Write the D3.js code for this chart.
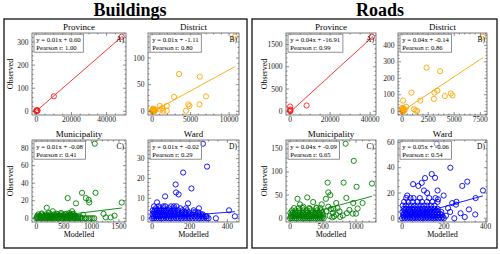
<!DOCTYPE html>
<html>
<head>
<meta charset="utf-8">
<script src="https://cdn.jsdelivr.net/npm/d3@7/dist/d3.min.js"></script>
<style>
  body { margin: 0; background: #fff; }
  text { font-family: "Liberation Serif", "DejaVu Serif", serif; }
</style>
</head>
<body>
<script>
// ---------- data ----------
var groupTitles = ['Buildings', 'Roads'];
var levelNames = ['Province', 'District', 'Municipality', 'Ward'];
var panelLetters = ['A)', 'B)', 'C)', 'D)'];
var levelColors = ['#ff2020', 'orange', 'green', 'blue'];

// buildings
var bProvince = [[0,0],[150,2],[300,1],[500,4],[800,3],[200,5],[10000,65],[48600,323]];
var bDistrict = [[10750,140],[3500,70],[6200,65],[2850,27],[7000,28],[4700,13],[4850,10],[6150,13],[4400,1],
  [1000,10],[1900,10],[1300,6],[1900,1],[1450,1],[1100,3],[0,0],[50,2],[100,5],[150,1],[200,3],[250,0],
  [300,4],[80,0],[120,2],[180,0],[30,1],[350,1],[400,2],[60,3],[220,1]];
var bMunicipality = [
  [1060,85],[570,23],[830,29],[1075,29],[900,23],[950,21],[960,18],[720,17],[1550,18],[190,12],[300,8],
  [650,8],[680,5],[1220,5],[1420,3],[1350,1],[1260,1],[850,4],[100,5.5],[450,6],[550,5],[230,6],[370,5],[600,6],[620,4],
  [0,0],[30,0],[72,0],[101,0],[145,0],[170,0],[214,0],[250,0],[276,0],[320,0],[348,0],[390,0],[415,0],[460,0],
  [488,0],[530,0],[555,0],[600,0],[628,0],[670,0],[702,0],[740,0],[765,0],[810,0],[838,0],[880,0],[905,0],
  [950,0],[985,0],[1020,0],[1052,0],
  [12,1.5],[55,1.5],[90,1.5],[130,1.5],[160,1.5],[200,1.5],[235,1.5],[265,1.5],[300,1.5],[335,1.5],[370,1.5],
  [405,1.5],[440,1.5],[475,1.5],[510,1.5],[545,1.5],[580,1.5],[615,1.5],[650,1.5],[690,1.5],[720,1.5],[760,1.5],[800,1.5],
  [20,3],[60,3],[115,3],[155,3],[190,3],[228,3],[270,3],[310,3],[360,3],[400,3],[430,3],[470,3],[515,3],
  [560,3],[600,3],[640,3],[690,3],
  [40,4.5],[95,4.5],[180,4.5],[260,4.5],[330,4.5],[380,4.5],[450,4.5],[520,4.5],[610,4.5],[660,4.5]];
var bWard = [
  [270,37.5],[292,26],[165,23],[209,15],[125,17],[127,13],[141,12],[69,11],[191,7.5],[249,5],[221,4],
  [409,4],[440,1],[339,0],[26,8],[116,6],[60,6],[180,3],[230,3],[260,2],[290,1],
  [0,0],[10,0],[22,0],[35,0],[48,0],[60,0],[75,0],[88,0],[100,0],[115,0],[128,0],[140,0],[155,0],[170,0],
  [185,0],[200,0],[215,0],[230,0],[245,0],[260,0],[275,0],[290,0],[300,0],
  [5,1],[18,1],[30,1],[42,1],[55,1],[68,1],[82,1],[95,1],[108,1],[120,1],[135,1],[150,1],[165,1],[180,1],
  [195,1],[210,1],[225,1],[240,1],[255,1],[270,1],[285,1],
  [2,2],[15,2],[28,2],[40,2],[52,2],[65,2],[78,2],[92,2],[105,2],[118,2],[132,2],[145,2],[160,2],[178,2],
  [195,2],[212,2],[232,2],[250,2],[268,2],
  [8,3],[20,3],[33,3],[45,3],[58,3],[72,3],[85,3],[98,3],[112,3],[125,3],[140,3],[158,3],[175,3],[195,3],
  [220,3],[245,3],
  [3,4],[14,4],[26,4],[38,4],[50,4],[62,4],[75,4],[90,4],[105,4],[120,4],[138,4],[160,4],[185,4],
  [20,5],[40,5],[60,5],[90,5],[115,5],[150,5],[180,5],
  [10,6],[35,6],[70,6],[100,6],[130,6]];

// roads
var rProvince = [[0,0],[0,20],[100,40],[0,107],[200,10],[8250,130],[40870,1675]];
var rDistrict = [[7750,452],[2350,265],[3650,243],[900,113],[3380,125],[3100,113],[4670,108],[4830,96],
  [4100,92],[3050,75],[1750,65],[100,65],[400,27],[1150,12],[1450,2],[1300,5],[0,0],[50,5],[100,10],
  [150,18],[200,3],[30,15],[80,2],[250,8],[0,20],[120,0],[60,8]];
var rMunicipality = [
  [843,161],[967,124],[1009,68],[1242,75],[812,77],[570,77],[580,56],[610,50],[854,44],[260,45],[113,42],
  [543,42],[958,33],[1100,33],[700,33],[1025,21],[862,11],[668,4],[700,8],[750,15],[900,18],[800,6],
  [950,10],[650,12],[620,20],[480,30],[400,23],[300,20],[200,25],[150,30],[350,35],[600,5],[640,2],
  [760,3],[1000,10],[550,15],[580,25],[660,20],[720,22],
  [0,0],[30,0],[65,0],[95,0],[130,0],[160,0],[195,0],[225,0],[260,0],[290,0],[320,0],[355,0],[385,0],
  [420,0],[450,0],[480,0],[510,0],
  [10,4],[45,4],[80,4],[110,4],[145,4],[180,4],[210,4],[245,4],[275,4],[305,4],[340,4],[370,4],[400,4],
  [435,4],[465,4],[500,4],
  [20,8],[55,8],[90,8],[125,8],[170,8],[205,8],[240,8],[280,8],[315,8],[350,8],[390,8],[425,8],[460,8],[495,8],
  [5,12],[40,12],[75,12],[115,12],[150,12],[190,12],[230,12],[270,12],[330,12],[380,12],[440,12],[490,12],
  [30,17],[85,17],[140,17],[200,17],[250,17],[320,17],[410,17],[470,17],
  [60,22],[130,22],[190,22],[290,22],[400,22],[460,22]];
var rWard = [
  [166,59],[231,40],[142,35],[158,32],[110,31.8],[53,27],[94,28],[78,25.6],[288,25.6],[312,29],[387,22],
  [352,16],[199,18],[258,10.8],[170,22],[172,15],[25,18],[40,16],[120,20],[105,22],[210,2],[230,5],
  [250,0],[280,4],[300,1],[220,8],[260,13],[240,12],[320,7],[350,3],
  [0,0],[12,0],[25,0],[38,0],[50,0],[62,0],[75,0],[88,0],[100,0],[112,0],[125,0],[138,0],[150,0],
  [162,0],[175,0],[188,0],[200,0],
  [8,1.25],[22,1.25],[35,1.25],[48,1.25],[60,1.25],[72,1.25],[85,1.25],[98,1.25],[110,1.25],[122,1.25],
  [135,1.25],[150,1.25],[165,1.25],[180,1.25],[195,1.25],
  [5,2.5],[18,2.5],[30,2.5],[42,2.5],[55,2.5],[68,2.5],[80,2.5],[92,2.5],[105,2.5],[118,2.5],[130,2.5],
  [145,2.5],[160,2.5],[175,2.5],[190,2.5],
  [10,3.75],[25,3.75],[45,3.75],[62,3.75],[84,3.75],[100,3.75],[120,3.75],[135,3.75],[152,3.75],[168,3.75],[182,3.75],
  [2,5],[15,5],[28,5],[40,5],[52,5],[65,5],[78,5],[90,5],[102,5],[115,5],[128,5],[142,5],[158,5],[172,5],[188,5],
  [12,6.25],[30,6.25],[55,6.25],[70,6.25],[95,6.25],[118,6.25],[135,6.25],[150,6.25],[165,6.25],
  [8,7.5],[20,7.5],[35,7.5],[48,7.5],[60,7.5],[72,7.5],[85,7.5],[98,7.5],[110,7.5],[125,7.5],[140,7.5],
  [155,7.5],[170,7.5],
  [3,10],[18,10],[32,10],[45,10],[60,10],[75,10],[90,10],[105,10],[120,10],[138,10],[155,10],
  [10,13],[30,13],[50,13],[75,13],[95,13],[120,13],[145,13],[170,13],
  [20,16],[55,16],[85,16],[130,16],[160,16]];

var buildingsData = [bProvince, bDistrict, bMunicipality, bWard];
var roadsData = [rProvince, rDistrict, rMunicipality, rWard];

// fitted lines (true slopes, the labels show them rounded)
var bSlope = [0.00663, 0.0079, 0.0076, 0.0076];
var bIntercept = [0.60, -1.11, -0.08, -0.02];
var rSlope = [0.0410, 0.042, 0.0383, 0.046];
var rIntercept = [-16.91, -0.14, -0.09, -0.06];

var bEquations = ['y = 0.01x + 0.60', 'y = 0.01x + -1.11', 'y = 0.01x + -0.08', 'y = 0.01x + -0.02'];
var bPearson = ['Pearson r: 1.00', 'Pearson r: 0.80', 'Pearson r: 0.41', 'Pearson r: 0.29'];
var rEquations = ['y = 0.04x + -16.91', 'y = 0.04x + -0.14', 'y = 0.04x + -0.09', 'y = 0.05x + -0.06'];
var rPearson = ['Pearson r: 0.99', 'Pearson r: 0.86', 'Pearson r: 0.65', 'Pearson r: 0.54'];

// major tick values
var bTicksX = [[0,20000,40000],[0,5000,10000],[0,500,1000,1500],[0,200,400]];
var bTicksY = [[0,100,200,300],[0,50,100],[0,20,40,60,80],[0,10,20,30]];
var rTicksX = [[0,20000,40000],[0,2500,5000,7500],[0,500,1000],[0,200,400]];
var rTicksY = [[0,500,1000,1500],[0,100,200,300,400],[0,50,100,150],[0,20,40,60]];

// ---------- layout ----------
var W = 500, H = 254;
var groups = [
  { frame: [4, 19, 243, 229], titleX: 130, cols: [[32, 126], [148, 239]], ylabX: 13,
    data: buildingsData, slope: bSlope, icpt: bIntercept, eq: bEquations, pr: bPearson, tx: bTicksX, ty: bTicksY },
  { frame: [252, 19, 245, 229], titleX: 380, cols: [[286, 376], [398, 487]], ylabX: 267,
    data: roadsData, slope: rSlope, icpt: rIntercept, eq: rEquations, pr: rPearson, tx: rTicksX, ty: rTicksY }
];
var rows = [[33, 115], [140, 222]];

var svg = d3.select('body').append('svg').attr('width', W).attr('height', H);

function padded(ext) {
  var m = (ext[1] - ext[0]) * 0.05;
  return [ext[0] - m, ext[1] + m];
}

function minorTicks(major, domain) {
  var step = major[1] - major[0];
  var mant = step / Math.pow(10, Math.floor(Math.log10(step)));
  var nd = [1, 2.5, 5, 10].some(function (v) { return Math.abs(v - mant) < 1e-6; }) ? 5 : 4;
  var out = [];
  for (var v = major[0] - step; v <= domain[1]; v += step / nd) {
    if (v >= domain[0] && major.indexOf(Math.round(v * 1e6) / 1e6) < 0) out.push(v);
  }
  return out;
}

groups.forEach(function (g, gi) {
  svg.append('rect')
    .attr('x', g.frame[0]).attr('y', g.frame[1])
    .attr('width', g.frame[2]).attr('height', g.frame[3])
    .attr('fill', 'none').attr('stroke', '#111').attr('stroke-width', 1.3);

  svg.append('text')
    .attr('x', g.titleX).attr('y', 16)
    .attr('text-anchor', 'middle')
    .attr('font-size', 18).attr('font-weight', 'bold')
    .text(groupTitles[gi]);

  for (var i = 0; i < 4; i++) {
    var r = Math.floor(i / 2), c = i % 2;
    var xr = g.cols[c], yr = rows[r];
    var pts = g.data[i];
    var x = d3.scaleLinear().domain(padded(d3.extent(pts, function (d) { return d[0]; }))).range(xr);
    var y = d3.scaleLinear().domain(padded(d3.extent(pts, function (d) { return d[1]; }))).range([yr[1], yr[0]]);
    var p = svg.append('g');
    var color = levelColors[i];

    // scatter
    p.selectAll('circle').data(pts).enter().append('circle')
      .attr('cx', function (d) { return x(d[0]); })
      .attr('cy', function (d) { return y(d[1]); })
      .attr('r', 2.6)
      .attr('fill', 'none')
      .attr('stroke', color)
      .attr('stroke-width', 0.9);

    // regression line
    var xe = d3.extent(pts, function (d) { return d[0]; });
    var sl = g.slope[i], ic = g.icpt[i];
    p.append('path')
      .datum(xe)
      .attr('d', d3.line()
        .x(function (v) { return x(v); })
        .y(function (v) { return y(sl * v + ic); }))
      .attr('stroke', color).attr('stroke-width', 0.9).attr('fill', 'none');

    // axes frame
    p.append('rect')
      .attr('x', xr[0]).attr('y', yr[0])
      .attr('width', xr[1] - xr[0]).attr('height', yr[1] - yr[0])
      .attr('fill', 'none').attr('stroke', '#444').attr('stroke-width', 0.7);

    // inward ticks on all four sides
    var tx = g.tx[i], ty = g.ty[i];
    var mx = minorTicks(tx, x.domain()), my = minorTicks(ty, y.domain());
    var tk = p.append('g').attr('stroke', '#444').attr('stroke-width', 0.6);
    function vt(vals, len) {
      vals.forEach(function (v) {
        var px = x(v);
        tk.append('line').attr('x1', px).attr('x2', px).attr('y1', yr[1]).attr('y2', yr[1] - len);
        tk.append('line').attr('x1', px).attr('x2', px).attr('y1', yr[0]).attr('y2', yr[0] + len);
      });
    }
    function ht(vals, len) {
      vals.forEach(function (v) {
        var py = y(v);
        tk.append('line').attr('y1', py).attr('y2', py).attr('x1', xr[0]).attr('x2', xr[0] + len);
        tk.append('line').attr('y1', py).attr('y2', py).attr('x1', xr[1]).attr('x2', xr[1] - len);
      });
    }
    vt(tx, 3); vt(mx, 1.5); ht(ty, 3); ht(my, 1.5);

    // tick labels
    p.selectAll('.xl').data(tx).enter().append('text')
      .attr('x', function (v) { return x(v); })
      .attr('y', yr[1] + 6.8)
      .attr('text-anchor', 'middle').attr('font-size', 7.5).attr('fill', '#222')
      .text(function (v) { return v; });
    p.selectAll('.yl').data(ty).enter().append('text')
      .attr('x', xr[0] - 3.5)
      .attr('y', function (v) { return y(v) + 2.5; })
      .attr('text-anchor', 'end').attr('font-size', 7.5).attr('fill', '#222')
      .text(function (v) { return v; });

    // subplot title
    p.append('text')
      .attr('x', (xr[0] + xr[1]) / 2).attr('y', yr[0] - 3)
      .attr('text-anchor', 'middle').attr('font-size', 9)
      .text(levelNames[i]);

    // letter
    p.append('text')
      .attr('x', xr[1] - 2).attr('y', yr[0] + 9)
      .attr('text-anchor', 'end').attr('font-size', 7.5)
      .text(panelLetters[i]);

    // equation box
    var box = p.append('rect')
      .attr('x', xr[0] + 2).attr('y', yr[0] + 1.2).attr('height', 18)
      .attr('fill', 'white').attr('fill-opacity', 0.5)
      .attr('stroke', '#777').attr('stroke-width', 0.8);
    var t1 = p.append('text').attr('x', xr[0] + 4.3).attr('y', yr[0] + 8.6)
      .attr('font-size', 6.7).text(g.eq[i]);
    var t2 = p.append('text').attr('x', xr[0] + 4.3).attr('y', yr[0] + 16.5)
      .attr('font-size', 6.7).text(g.pr[i]);
    var bw = Math.max(t1.node().getComputedTextLength(), t2.node().getComputedTextLength()) + 5;
    box.attr('width', bw);

    // axis labels
    if (r === 1) {
      p.append('text')
        .attr('x', (xr[0] + xr[1]) / 2).attr('y', 237)
        .attr('text-anchor', 'middle').attr('font-size', 8)
        .text('Modelled');
    }
    if (c === 0) {
      p.append('text')
        .attr('transform', 'translate(' + g.ylabX + ',' + ((yr[0] + yr[1]) / 2) + ') rotate(-90)')
        .attr('text-anchor', 'middle').attr('font-size', 8)
        .text('Observed');
    }
  }
});
</script>
</body>
</html>
